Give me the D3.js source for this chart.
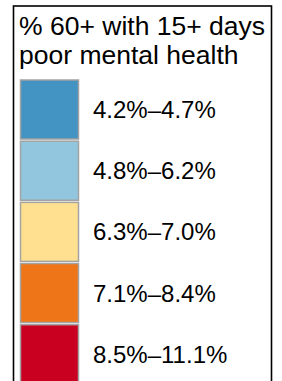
<!DOCTYPE html>
<html>
<head>
<meta charset="utf-8">
<script src="https://cdn.jsdelivr.net/npm/d3@7"></script>
<style>
  html, body { margin: 0; padding: 0; background: #fff; overflow: hidden; }
  svg { display: block; font-family: "Liberation Sans", Arial, sans-serif; }
</style>
</head>
<body>
<svg class="chart"></svg>
<script>
const width = 282,
      height = 381

// legend content
const titleLines = ["% 60+ with 15+ days", "poor mental health"]
const bins = ["4.2%\u20134.7%", "4.8%\u20136.2%", "6.3%\u20137.0%", "7.1%\u20138.4%", "8.5%\u201311.1%"]
const colors = ["#4393c3", "#92c5de", "#fee090", "#ee7619", "#ca0020"]

const svg = d3.select(".chart")
    .attr("width", width)
    .attr("height", height)

// frame (bottom edge runs off the picture)
svg.append("rect")
    .attr("x", 13.5)
    .attr("y", 6)
    .attr("width", 258)
    .attr("height", 420)
    .attr("fill", "#fff")
    .attr("stroke", "#000")
    .attr("stroke-width", 1.6)

svg.append("g")
  .selectAll("text")
  .data(titleLines)
  .enter()
  .append("text")
    .attr("x", 19)
    .attr("y", (d, i) => 34.5 + i * 29)
    .attr("font-size", 26.5)
    .attr("fill", "#000")
    .text(d => d)

const y = d3.scaleBand()
    .domain(bins)
    .range([80, 80 + bins.length * 60.75])
    .paddingInner(0.035)
    .paddingOuter(0)

const color = d3.scaleOrdinal()
    .domain(bins)
    .range(colors)

const row = svg.append("g")
  .selectAll(".row")
  .data(bins)
  .enter()
  .append("g")
    .attr("class", "row")

row.append("rect")
    .attr("x", 20.5)
    .attr("y", d => y(d))
    .attr("width", 58)
    .attr("height", y.bandwidth())
    .attr("fill", d => color(d))
    .attr("stroke", "#a3a3a3")
    .attr("stroke-width", 1.5)

row.append("text")
    .attr("x", 93)
    .attr("y", d => y(d) + y.bandwidth() / 2 + 8.5)
    .attr("font-size", 24)
    .attr("fill", "#000")
    .text(d => d)
</script>
</body>
</html>
